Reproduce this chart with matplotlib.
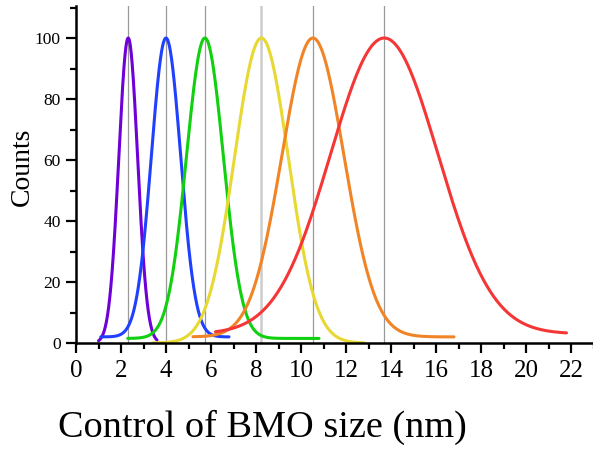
import numpy as np
import matplotlib.pyplot as plt

# size distributions (Gaussian fits)
centers = [2.32, 4.0, 5.73, 8.24, 10.53, 13.7]
sigmas = [0.42, 0.65, 0.82, 1.2, 1.38, 2.39]
baselines = [0.0, 2.0, 1.5, 0.0, 2.0, 3.0]
x_start = [1.0, 1.1, 2.3, 3.4, 5.2, 6.2]
x_end = [3.6, 6.8, 10.8, 12.8, 16.8, 21.8]
colors = ["#6e00d8", "#2040ff", "#10d010", "#e8d832", "#f08426", "#f53636"]

x_ticks = [0, 2, 4, 6, 8, 10, 12, 14, 16, 18, 20, 22]
y_ticks = [0, 20, 40, 60, 80, 100]

plt.rcParams['font.family'] = ['Liberation Serif', 'DejaVu Serif']

fig = plt.figure(figsize=(5.93, 4.53), dpi=100)
ax = fig.add_axes([76 / 593, 110 / 453, 519.75 / 593, 337 / 453])

# grey guide lines at each peak
for i, c in enumerate(centers):
    if i == 3:
        ax.axvline(c, color="#cccccc", lw=1.8, zorder=1)
    else:
        ax.axvline(c, color="#999999", lw=0.9, zorder=1)

for c, s, b, x0, x1, col in zip(centers, sigmas, baselines, x_start, x_end, colors):
    x = np.linspace(x0, x1, 300)
    y = b + (100 - b) * np.exp(-0.5 * ((x - c) / s) ** 2)
    ax.plot(x, y, color=col, lw=2.2, solid_capstyle="round", zorder=3)

ax.set_xlim(0, 23.1)
ax.set_ylim(0, 110.5)
ax.set_xticks(x_ticks)
ax.set_xticks(np.arange(1, 24, 2), minor=True)
ax.set_yticks(y_ticks)
ax.set_yticks(np.arange(10, 111, 20), minor=True)

for side in ["top", "right"]:
    ax.spines[side].set_visible(False)
for side in ["left", "bottom"]:
    ax.spines[side].set_linewidth(1.8)
    ax.spines[side].set_zorder(5)

ax.tick_params(axis="both", which="major", direction="out", length=7, width=1.6)
ax.tick_params(axis="both", which="minor", direction="out", length=4, width=1.6)
ax.tick_params(axis="x", labelsize=18, pad=5)
ax.tick_params(axis="y", labelsize=12.5, pad=4)

fig.text(22 / 593, 1 - 167 / 453, "Counts", fontsize=20, rotation=90,
         ha="center", va="center")
fig.text(262 / 593, 1 - 427 / 453, "Control of BMO size (nm)", fontsize=27.5,
         ha="center", va="center")

fig.savefig("out.png", dpi=100)
